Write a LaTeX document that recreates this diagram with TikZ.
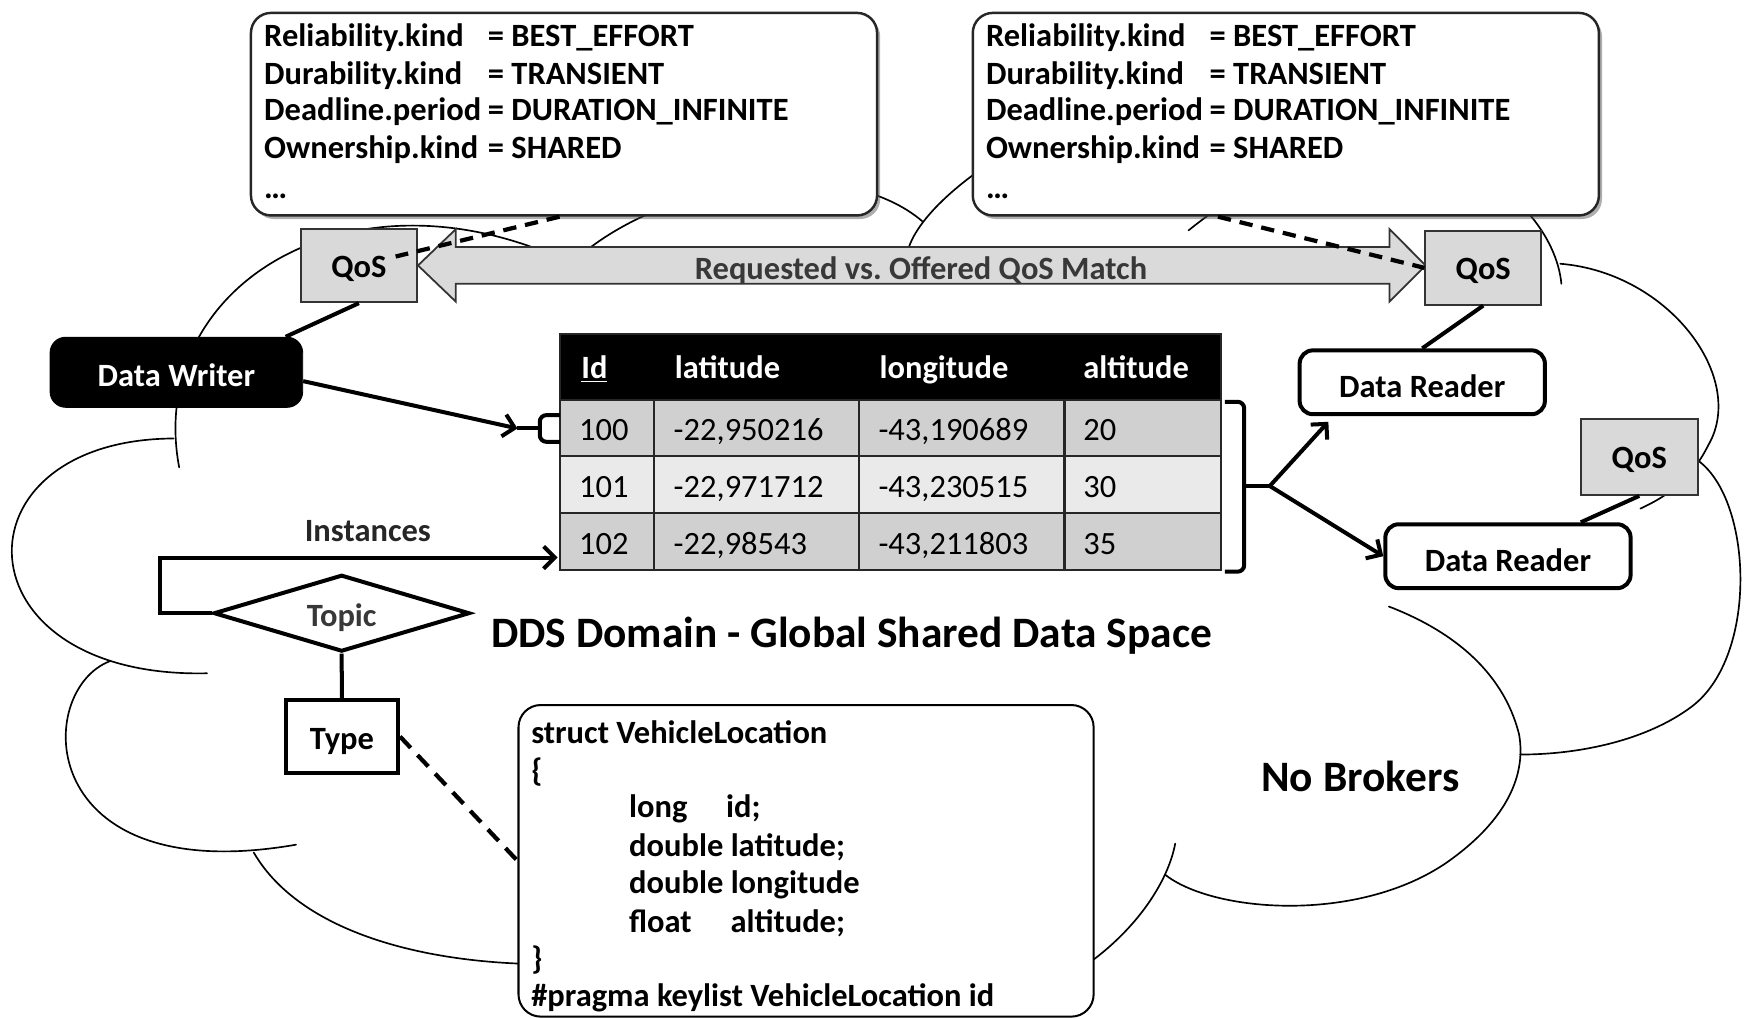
\documentclass[tikz,border=0pt]{standalone}
\usepackage{fontspec}
\setmainfont{Carlito}
\usetikzlibrary{arrows.meta,shapes.geometric,shadows,calc}
\definecolor{qosgray}{HTML}{D9D9D9}
\definecolor{arrowgray}{HTML}{DADADA}
\definecolor{rowdark}{HTML}{D0D0D0}
\definecolor{rowlight}{HTML}{EAEAEA}
\definecolor{labelgray}{HTML}{383838}
\newcommand{\txtsize}{\fontsize{14.6}{17}\selectfont}
\newcommand{\bigsize}{\fontsize{19.5}{23}\selectfont}
\frenchspacing
\begin{document}
\begin{tikzpicture}[x=0.5pt,y=-0.5pt,
  cloudline/.style={line width=0.75pt, line cap=round},
  conn/.style={line width=1.8pt},
  tip/.style={-{Straight Barb[length=5pt,width=10pt]}},
  qosdash/.style={line width=1.9pt, dash pattern=on 6pt off 4pt},
  typedash/.style={line width=1.9pt, dash pattern=on 7pt off 4.5pt},
  lbl/.style={anchor=base west, inner sep=0pt, font=\txtsize\bfseries},
  cellbold/.style={anchor=base west, inner sep=0pt, font=\txtsize\bfseries, text=white},
  celltext/.style={anchor=base west, inner sep=0pt, font=\txtsize},
  topbox/.style={draw=black!85, line width=1.1pt, fill=white, rounded corners=9pt,
    minimum width=281.3pt, minimum height=91pt, inner sep=0pt,
    drop shadow={shadow xshift=1.4pt, shadow yshift=-1.6pt, opacity=0.45, fill=black!70}},
  qosbox/.style={draw=black!80, line width=0.9pt, fill=qosgray, minimum width=52pt,
    minimum height=33pt, inner sep=0pt, font=\txtsize\bfseries, text height=10.5pt, text depth=0pt},
  readerbox/.style={draw, line width=1.8pt, fill=white, rounded corners=6pt,
    minimum width=110.2pt, minimum height=28.7pt, inner sep=0pt,
    font=\txtsize\bfseries, text height=13.5pt, text depth=0pt},
  tablerow/.style={draw=black!85, line width=1pt, minimum width=297pt, inner sep=0pt},
  bracket/.style={line width=1.8pt, rounded corners=3pt},
]
\useasboundingbox (0,0) rectangle (1568,915);

% ---- the domain cloud, one arc per puff ----
\draw[cloudline] (161,420) .. controls (130,255) and (320,140) .. (520,240);
\draw[cloudline] (156,394) .. controls (-45,395) and (-40,610) .. (186,605);
\draw[cloudline] (99,594) .. controls (30,620) and (30,800) .. (266,759);
\draw[cloudline] (228,766) .. controls (265,830) and (360,862) .. (470,866)
  .. controls (600,875) and (850,880) .. (983,862)
  .. controls (1025,830) and (1050,790) .. (1056,758);
\draw[cloudline] (1047,786) .. controls (1090,820) and (1220,830) .. (1300,775)
  .. controls (1350,740) and (1372,700) .. (1365,660)
  .. controls (1350,600) and (1300,565) .. (1248,545);
\draw[cloudline] (1526,414) .. controls (1575,450) and (1580,590) .. (1520,635)
  .. controls (1480,665) and (1420,678) .. (1366,678);
\draw[cloudline] (1402,237) .. controls (1500,245) and (1570,340) .. (1535,400)
  .. controls (1520,430) and (1500,445) .. (1474,457);
\draw[cloudline] (1403,255) .. controls (1395,170) and (1250,60) .. (1068,207);
\draw[cloudline] (815,228) .. controls (822,195) and (870,158) .. (900,140);
\draw[cloudline] (829,199) .. controls (760,140) and (610,160) .. (527,225);

% ---- QoS policy boxes ----
\foreach \dx/\nm in {0/L,648.6/R}{
  \node[topbox] (qbox\nm) at (506.8+\dx,102.6) {};
  \node[lbl] (qk1\nm) at (237+\dx,42) {Reliability.kind};
  \node[lbl] (qv1\nm) at (438+\dx,42) {= BEST\_EFFORT};
  \node[lbl] (qk2\nm) at (237+\dx,75.5) {Durability.kind};
  \node[lbl] (qv2\nm) at (438+\dx,75.5) {= TRANSIENT};
  \node[lbl] (qk3\nm) at (237+\dx,108.5) {Deadline.period};
  \node[lbl] (qv3\nm) at (438+\dx,108.5) {= DURATION\_INFINITE};
  \node[lbl] (qk4\nm) at (237+\dx,142) {Ownership.kind};
  \node[lbl] (qv4\nm) at (438+\dx,142) {= SHARED};
  \node[lbl] (qk5\nm) at (237+\dx,178) {\ldots};
}

% ---- requested vs. offered double arrow ----
\draw[fill=arrowgray, draw=black!80, line width=0.8pt]
  (375.6,238.5) -- (409.5,206) -- (409.5,222) -- (1248.6,222) -- (1248.6,206)
  -- (1281,238.5) -- (1248.6,271) -- (1248.6,255) -- (409.5,255) -- (409.5,271) -- cycle;
\node[anchor=base, inner sep=0pt, font=\txtsize\bfseries, text=labelgray] (matchlabel)
  at (827.6,251) {Requested vs. Offered QoS Match};

% ---- QoS tags ----
\node[qosbox] (qosL) at (322.5,238.5) {QoS};
\node[qosbox] (qosR) at (1332.8,240.7) {QoS};
\node[qosbox, minimum width=52.5pt, minimum height=34pt] (qosD) at (1473,410.7) {QoS};

\draw[qosdash] ($(qboxL.south)+(-4,0)$) -- ($(qosL.center)+(33,-8)$);
\draw[qosdash] ($(qboxR.south)+(-61,0)$) -- (qosR.west);

% ---- writer ----
\node[draw=black, fill=black, rounded corners=7pt, minimum width=113.5pt, minimum height=31.5pt,
  inner sep=0pt, text=white, font=\txtsize\bfseries, text height=12.5pt, text depth=0pt]
  (writer) at (158.5,334.5) {Data Writer};
\draw[conn] (qosL.south) -- (writer.18);

% ---- instance table ----
\node[tablerow, fill=black, minimum height=29.75pt] (thead) at (800,329.75) {};
\node[tablerow, fill=rowdark, minimum height=25.25pt] (row1) at (800,384.75) {};
\node[tablerow, fill=rowlight, minimum height=25.5pt] (row2) at (800,435.5) {};
\node[tablerow, fill=rowdark, minimum height=25.5pt] (row3) at (800,486.5) {};
\foreach \cx in {587.5,772,956.5}
  \draw[line width=1pt, black!85] (\cx,359.5) -- (\cx,512);

\node[cellbold] (hid) at (522,340) {\underline{Id}};
\node[cellbold] (hlat) at (606,340) {latitude};
\node[cellbold] (hlon) at (790,340) {longitude};
\node[cellbold] (halt) at (973,340) {altitude};

\node[celltext] (c11) at (520,396) {100};
\node[celltext] (c12) at (605,396) {-22,950216};
\node[celltext] (c13) at (789,396) {-43,190689};
\node[celltext] (c14) at (973,396) {20};
\node[celltext] (c21) at (520,447) {101};
\node[celltext] (c22) at (605,447) {-22,971712};
\node[celltext] (c23) at (789,447) {-43,230515};
\node[celltext] (c24) at (973,447) {30};
\node[celltext] (c31) at (520,498) {102};
\node[celltext] (c32) at (605,498) {-22,98543};
\node[celltext] (c33) at (789,498) {-43,211803};
\node[celltext] (c34) at (973,498) {35};

% writer to first instance
\coordinate (wtip) at (465,385);
\coordinate (lbk) at (485,385);
\draw[bracket] (503,373) -- (485,373) -- (485,397) -- (503,397);
\draw[conn] (wtip) -- (lbk);
\draw[conn,tip] (writer.-4.3) -- (wtip);

% ---- readers ----
\node[readerbox] (reader1) at (1278,343.5) {Data Reader};
\node[readerbox] (reader2) at (1355,499.8) {Data Reader};
\draw[conn] (qosR.south) -- (reader1.north);
\draw[conn] (qosD.south) -- (reader2.25.7);

\coordinate (rbk) at (1118,436.7);
\coordinate (fork) at (1141,436.7);
\draw[bracket] (1100.7,361) -- (1118,361) -- (1118,513.7) -- (1100.7,513.7);
\draw[conn] (rbk) -- (fork);
\draw[conn,tip] (fork) -- ($(reader1.south west)+(27.6,5)$);
\draw[conn,tip] (fork) -- (reader2.west);

% ---- topic and type ----
\node[shape=diamond, draw, line width=1.8pt, fill=white, minimum width=115pt, minimum height=34.5pt,
  inner sep=0pt] (topic) at (307,551) {};
\node[anchor=base, inner sep=0pt, font=\txtsize\bfseries, text=labelgray] (topiclabel)
  at (307,563) {Topic};
\coordinate (insttip) at (501,501);
\draw[conn,tip] (topic.west) -- ++(-46.6,0) |- (insttip);
\node[anchor=base, inner sep=0pt, font=\txtsize\bfseries, text=black!85] (instlabel)
  at (330.5,487) {Instances};

\node[draw, line width=1.8pt, fill=white, minimum width=50.4pt, minimum height=32.4pt,
  inner sep=0pt, font=\txtsize\bfseries, text height=11.5pt, text depth=0pt]
  (typebox) at (307.2,661.8) {Type};
\draw[conn] (topic.south) -- (typebox.north);

% ---- IDL type definition ----
\node[draw, line width=0.9pt, fill=white, rounded corners=10pt, minimum width=258.4pt,
  minimum height=140pt, inner sep=0pt] (struct) at (724.3,773.5) {};
\draw[typedash] (typebox.east) -- (struct.west);

\node[lbl] (s1) at (477,668) {struct VehicleLocation};
\node[lbl] (s2) at (477,702) {\{};
\node[lbl] (s3a) at (565,735) {long};
\node[lbl] (s3b) at (652,735) {id;};
\node[lbl] (s4) at (565,769.5) {double latitude;};
\node[lbl] (s5) at (565,803) {double longitude};
\node[lbl] (s6a) at (565,837.5) {float};
\node[lbl] (s6b) at (656,837.5) {altitude;};
\node[lbl] (s7) at (477,871) {\}};
\node[lbl] (s8) at (477,904) {\#pragma keylist VehicleLocation id};

% ---- captions ----
\node[anchor=base west, inner sep=0pt, font=\bigsize\bfseries] (domain)
  at (441,582) {DDS Domain - Global Shared Data Space};
\node[anchor=base west, inner sep=0pt, font=\bigsize\bfseries] (nobrokers)
  at (1133,711) {No Brokers};
\end{tikzpicture}
\end{document}
